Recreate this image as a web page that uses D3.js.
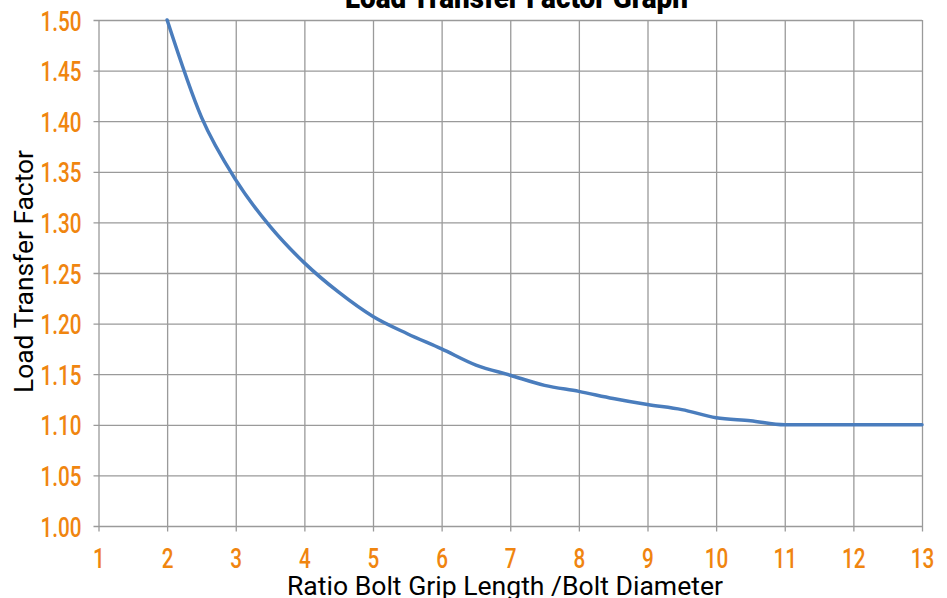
<!DOCTYPE html>
<html>
<head>
<meta charset="utf-8">
<script src="https://cdn.jsdelivr.net/npm/d3@7"></script>
<style>
  body { margin: 0; background: #fff; }
  svg { display: block; }
</style>
</head>
<body>
<div id="chart"></div>
<script>
// data
var ratios = [2, 2.5, 3, 3.5, 4, 4.5, 5, 5.5, 6, 6.5, 7, 7.5, 8, 8.5, 9, 9.5, 10, 10.5, 11, 11.5, 12, 12.5, 13];
var factors = [1.500, 1.404, 1.342, 1.296, 1.260, 1.231, 1.207, 1.190, 1.175, 1.159, 1.149, 1.139, 1.133, 1.126, 1.120, 1.115, 1.107, 1.104, 1.100, 1.100, 1.100, 1.100, 1.100];
var xTicks = [1, 2, 3, 4, 5, 6, 7, 8, 9, 10, 11, 12, 13];
var yTicks = [1.00, 1.05, 1.10, 1.15, 1.20, 1.25, 1.30, 1.35, 1.40, 1.45, 1.50];
var title = 'Load Transfer Factor Graph';
var xTitle = 'Ratio Bolt Grip Length /Bolt Diameter';
var yTitle = 'Load Transfer Factor';

var app = {};
app.W = 947;
app.H = 598;
app.plot = {left: 98.5, right: 922, top: 20, bottom: 526};
app.orange = '#f0850f';
app.grid = '#9a9a9a';
app.squeeze = 0.74;   // narrow look of the tick font

app.run = function () {
    var p = app.plot;
    var svg = d3.select('#chart').append('svg')
        .attr('width', app.W)
        .attr('height', app.H);

    var x = d3.scaleLinear().domain([1, 13]).range([p.left, p.right]);
    var y = d3.scaleLinear().domain([1, 1.5]).range([p.bottom, p.top]);

    // horizontal grid + y labels (ticks stick out 5px to the left)
    var yAxisG = svg.append('g')
        .attr('transform', 'translate(' + (p.left - 5) + ',0)')
        .call(d3.axisLeft(y).tickValues(yTicks).tickSize(-(p.right - p.left + 5)).tickFormat(d3.format('.2f')));

    // vertical grid + x labels
    var xAxisG = svg.append('g')
        .attr('transform', 'translate(0,' + (p.bottom + 5.5) + ')')
        .call(d3.axisBottom(x).tickValues(xTicks).tickSize(-(p.bottom - p.top + 5.5)).tickFormat(d3.format('d')));

    [yAxisG, xAxisG].forEach(function (g) {
        g.select('.domain').remove();
        g.selectAll('.tick line').attr('stroke', app.grid).attr('stroke-width', 1.3);
        g.selectAll('.tick text')
            .attr('fill', app.orange)
            .style('font-family', 'Roboto, sans-serif')
            .style('font-weight', '500')
            .style('font-size', '28px');
    });
    yAxisG.selectAll('.tick text')
        .attr('x', 0)
        .attr('dy', '0.36em')
        .attr('transform', 'translate(-12,0) scale(' + app.squeeze + ',1)');
    xAxisG.selectAll('.tick text')
        .attr('y', 0)
        .attr('dy', 0)
        .attr('transform', 'translate(0,36.5) scale(' + app.squeeze + ',1)');

    // curve
    var line = d3.line()
        .x(function (d, i) { return x(ratios[i]); })
        .y(function (d) { return y(d); })
        .curve(d3.curveMonotoneX);

    svg.append('path')
        .datum(factors)
        .attr('fill', 'none')
        .attr('stroke', '#4a7dbd')
        .attr('stroke-width', 3.5)
        .attr('stroke-linecap', 'round')
        .attr('d', line);

    // title (clipped by the top edge in the original)
    svg.append('text')
        .attr('x', 345)
        .attr('y', 8)
        .attr('textLength', 343)
        .attr('lengthAdjust', 'spacingAndGlyphs')
        .style('font-family', 'Roboto, sans-serif')
        .style('font-size', '30px')
        .style('font-weight', '900')
        .attr('fill', '#000')
        .text(title);

    svg.append('text')
        .attr('x', 287)
        .attr('y', 595)
        .attr('textLength', 436)
        .attr('lengthAdjust', 'spacingAndGlyphs')
        .style('font-family', 'Roboto, sans-serif')
        .style('font-size', '26px')
        .attr('fill', '#000')
        .text(xTitle);

    svg.append('text')
        .attr('transform', 'translate(33,393) rotate(-90)')
        .attr('textLength', 243)
        .attr('lengthAdjust', 'spacingAndGlyphs')
        .style('font-family', 'Roboto, sans-serif')
        .style('font-size', '26px')
        .attr('fill', '#000')
        .text(yTitle);
}

window.onload = app.run;
</script>
</body>
</html>
